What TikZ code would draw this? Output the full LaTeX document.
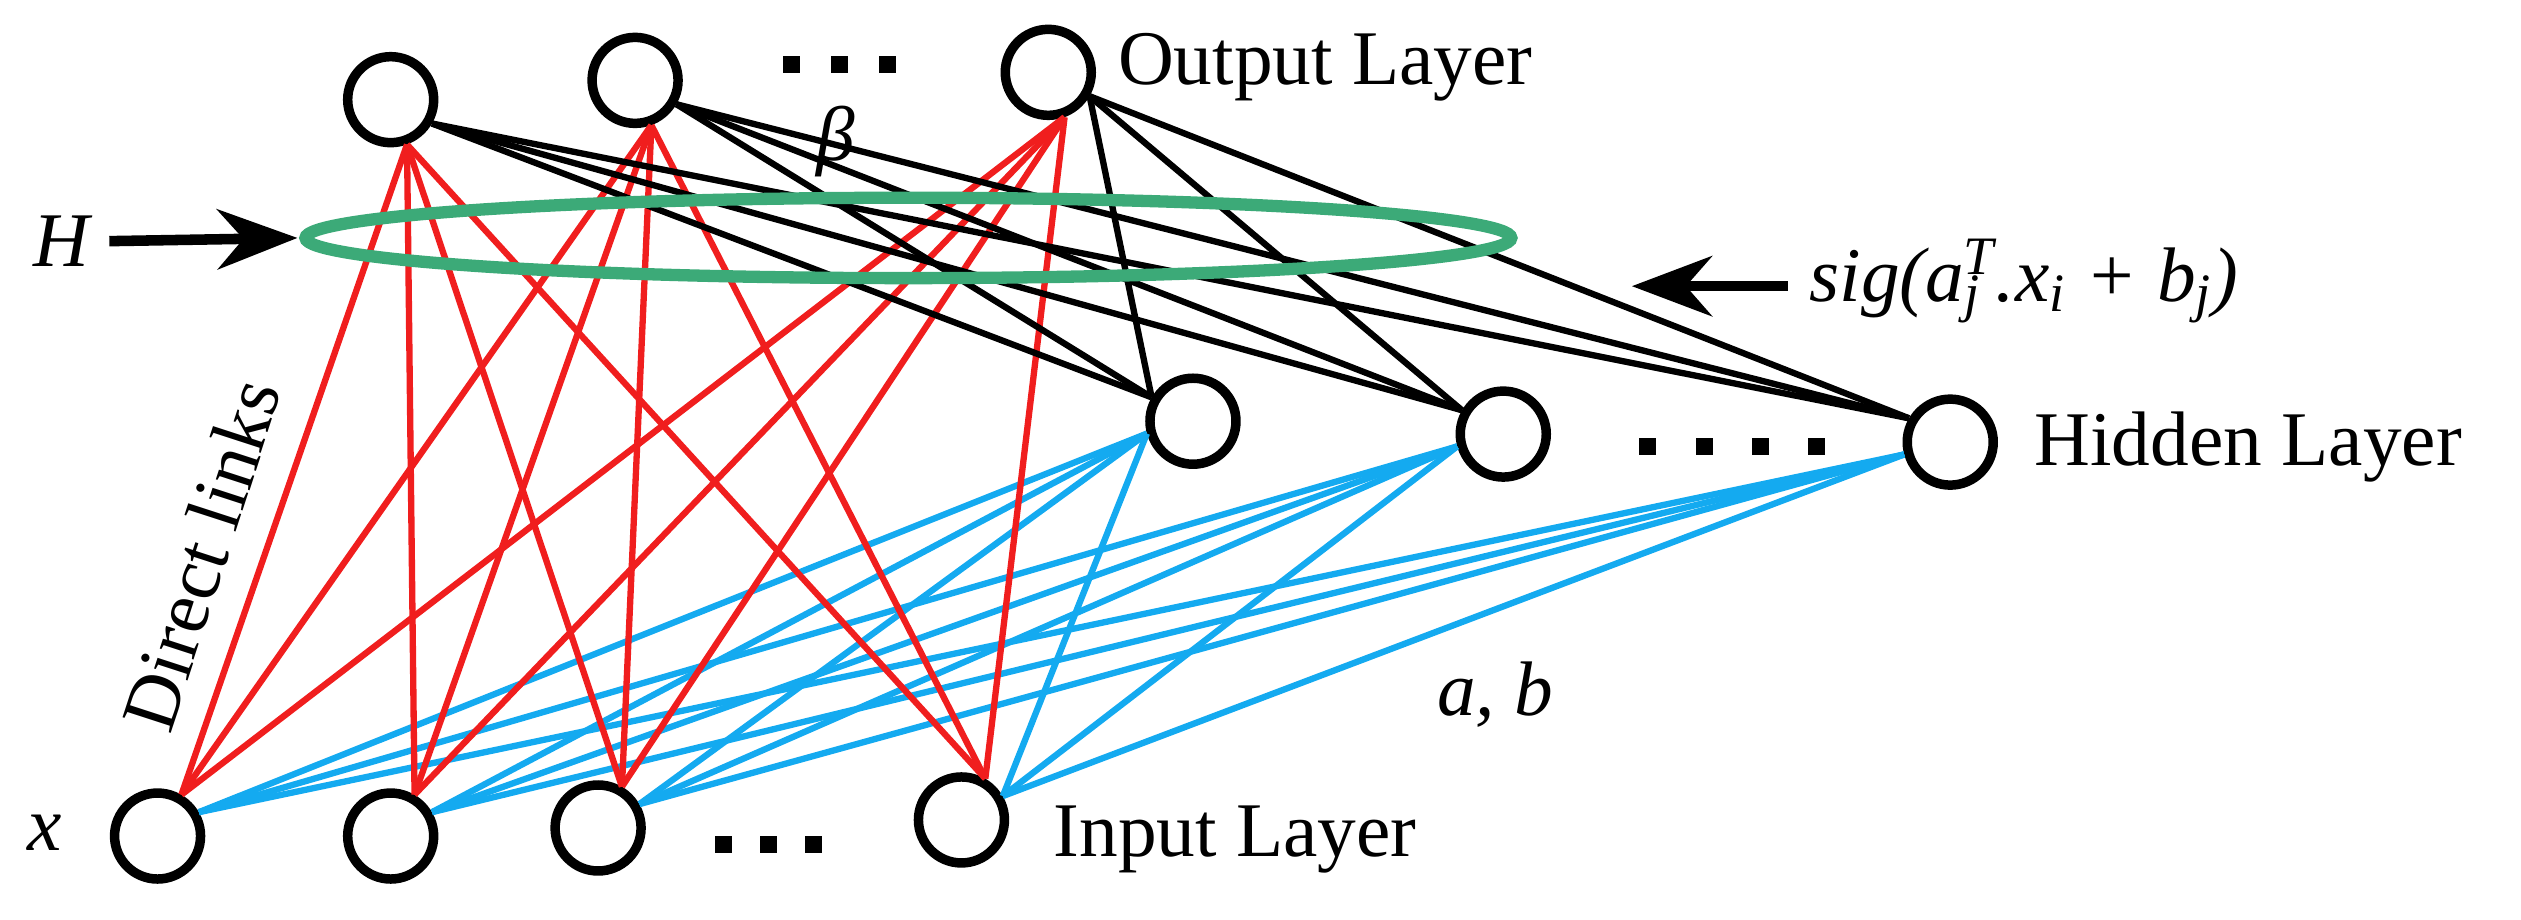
\documentclass[tikz,border=0pt]{standalone}
\usepackage{fontspec}
\setmainfont{Liberation Serif}
\usetikzlibrary{arrows.meta}
\begin{document}
\begin{tikzpicture}[x=0.1608mm,y=-0.1608mm,
 neu/.style={circle,draw=black,line width=2.7pt,minimum size=8.6mm,inner sep=0pt},
 red/.style={draw={rgb,255:red,240;green,30;blue,30},line width=1.8pt},
 blu/.style={draw={rgb,255:red,20;green,170;blue,240},line width=1.8pt},
 blk/.style={draw=black,line width=1.8pt},
 lbl/.style={font=\fontsize{22}{26}\selectfont,inner sep=0pt},
 dot/.style={fill=black,minimum size=1.7mm,inner sep=0pt,rectangle},
 arr/.style={draw=black,line width=3pt,-{Stealth[length=8mm,width=6mm]}}]
\useasboundingbox (0,0) rectangle (1568,572);
\node[neu] (O1) at (243,62) {};
\node[neu] (O2) at (395,50) {};
\node[neu] (O3) at (652,45) {};
\node[neu] (H1) at (742,262) {};
\node[neu] (H2) at (935,270) {};
\node[neu] (H3) at (1213,275) {};
\node[neu] (I1) at (98,520) {};
\node[neu] (I2) at (243,520) {};
\node[neu] (I3) at (372,515) {};
\node[neu] (I4) at (598,510) {};
\foreach \i in {I1,I2,I3,I4}{
 \foreach \o in {O1,O2,O3}{\draw[red] (\i.60) -- (\o.-70);}
 \foreach \h in {H1,H2,H3}{\draw[blu] (\i.30) -- (\h.195);}}
\foreach \o in {O1,O2,O3}{
 \foreach \h in {H1,H2,H3}{\draw[blk] (\o.-30) -- (\h.150);}}
\draw[draw={rgb,255:red,60;green,170;blue,120},line width=3.5pt] (565,148) ellipse [x radius=375,y radius=25];
\foreach[count=\k] \x in {492,522,552}{\node[dot] (od\k) at (\x,40) {};}
\foreach[count=\k] \x in {1025,1060,1095,1130}{\node[dot] (hd\k) at (\x,278) {};}
\foreach[count=\k] \x in {450,478,506}{\node[dot] (id\k) at (\x,525) {};}
\node[lbl,anchor=west] (tout) at (695,42) {Output Layer};
\node[lbl,anchor=west] (thid) at (1265,278) {Hidden Layer};
\node[lbl,anchor=west] (tin) at (655,522) {Input Layer};
\node[lbl] (tx) at (28,518) {\itshape x};
\node[lbl] (tH) at (38,150) {\itshape H};
\coordinate (eH) at (185,148);
\draw[arr] (68,150) -- (eH);
\node[lbl,anchor=west] (tsig) at (1125,175) {\itshape sig(a\textsubscript{j}\kern-0.22em\textsuperscript{T}.x\textsubscript{i} + b\textsubscript{j})};
\coordinate (eS) at (1015,178);
\draw[arr] (1112,178) -- (eS);
\node[lbl] (tb) at (520,88) {\itshape β};
\node[lbl] (tab) at (930,432) {\itshape a, b};
\node[lbl,rotate=72] (tdl) at (125,345) {Direct links};
\end{tikzpicture}
\end{document}
